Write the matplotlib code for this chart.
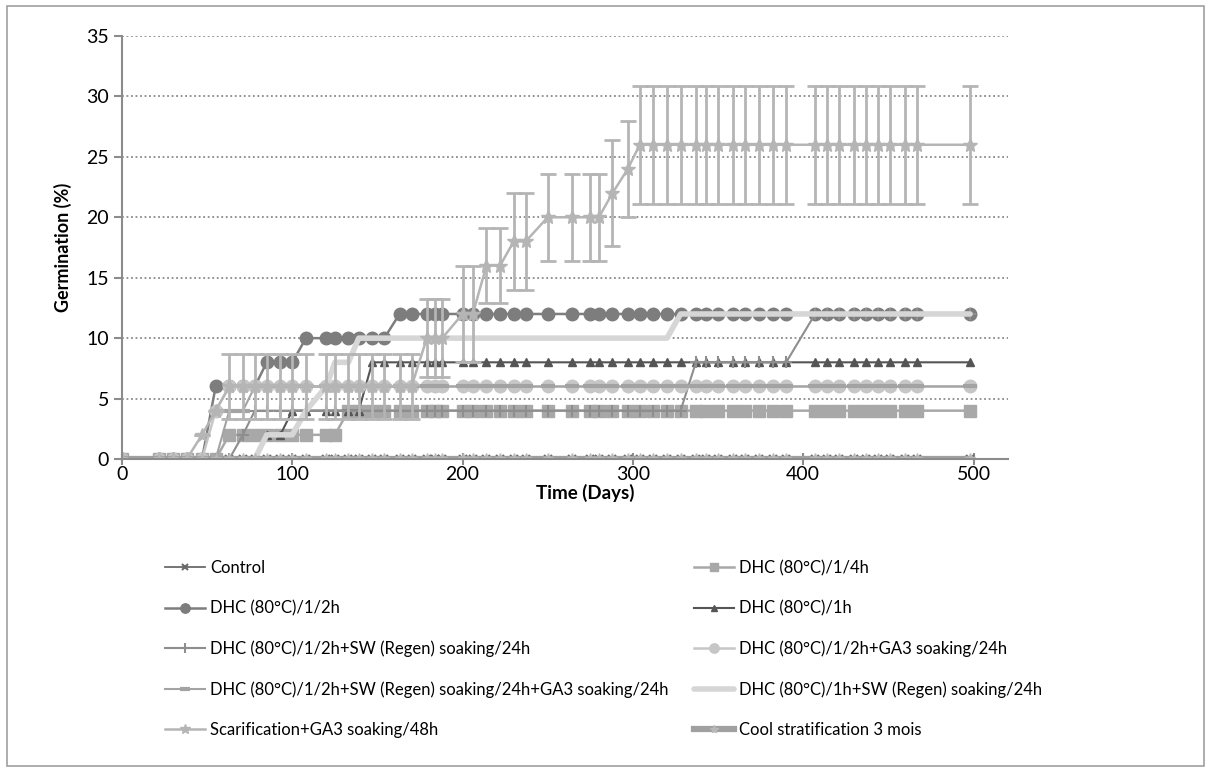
import matplotlib
matplotlib.use("Agg")
import matplotlib.pyplot as plt
from matplotlib.patches import Rectangle

plt.rcParams['font.family'] = ['Lato', 'DejaVu Sans']

# sampling days (shared by all treatments)
days = [0, 22, 30, 38, 47, 55, 63, 71, 78, 85,
        93, 100, 108, 120, 125, 133, 139, 147, 154, 163,
        170, 179, 184, 188, 200, 206, 214, 222, 230, 237,
        250, 264, 275, 280, 288, 297, 304, 312, 320, 328,
        337, 343, 350, 359, 366, 374, 382, 390, 407, 414,
        421, 430, 437, 444, 451, 460, 467, 498]

control = [0, 0, 0, 0, 0, 0, 0, 0, 0, 0,
           0, 0, 0, 0, 0, 0, 0, 0, 0, 0,
           0, 0, 0, 0, 0, 0, 0, 0, 0, 0,
           0, 0, 0, 0, 0, 0, 0, 0, 0, 0,
           0, 0, 0, 0, 0, 0, 0, 0, 0, 0,
           0, 0, 0, 0, 0, 0, 0, 0]
dhc_quarter = [0, 0, 0, 0, 0, 0, 2, 2, 2, 2,
               2, 2, 2, 2, 2, 4, 4, 4, 4, 4,
               4, 4, 4, 4, 4, 4, 4, 4, 4, 4,
               4, 4, 4, 4, 4, 4, 4, 4, 4, 4,
               4, 4, 4, 4, 4, 4, 4, 4, 4, 4,
               4, 4, 4, 4, 4, 4, 4, 4]
dhc_half = [0, 0, 0, 0, 0, 6, 6, 6, 6, 8,
            8, 8, 10, 10, 10, 10, 10, 10, 10, 12,
            12, 12, 12, 12, 12, 12, 12, 12, 12, 12,
            12, 12, 12, 12, 12, 12, 12, 12, 12, 12,
            12, 12, 12, 12, 12, 12, 12, 12, 12, 12,
            12, 12, 12, 12, 12, 12, 12, 12]
dhc_1h = [0, 0, 0, 0, 0, 0, 0, 0, 0, 2,
          2, 4, 4, 4, 4, 4, 4, 8, 8, 8,
          8, 8, 8, 8, 8, 8, 8, 8, 8, 8,
          8, 8, 8, 8, 8, 8, 8, 8, 8, 8,
          8, 8, 8, 8, 8, 8, 8, 8, 8, 8,
          8, 8, 8, 8, 8, 8, 8, 8]
half_sw = [0, 0, 0, 0, 0, 0, 0, 2, 4, 4,
           4, 4, 4, 4, 4, 4, 4, 4, 4, 4,
           4, 4, 4, 4, 4, 4, 4, 4, 4, 4,
           4, 4, 4, 4, 4, 4, 4, 4, 4, 4,
           8, 8, 8, 8, 8, 8, 8, 8, 12, 12,
           12, 12, 12, 12, 12, 12, 12, 12]
half_ga3 = [0, 0, 0, 0, 0, 4, 6, 6, 6, 6,
            6, 6, 6, 6, 6, 6, 6, 6, 6, 6,
            6, 6, 6, 6, 6, 6, 6, 6, 6, 6,
            6, 6, 6, 6, 6, 6, 6, 6, 6, 6,
            6, 6, 6, 6, 6, 6, 6, 6, 6, 6,
            6, 6, 6, 6, 6, 6, 6, 6]
half_sw_ga3 = [0, 0, 0, 0, 0, 0, 4, 4, 6, 6,
               6, 6, 6, 6, 6, 6, 6, 6, 6, 6,
               6, 6, 6, 6, 6, 6, 6, 6, 6, 6,
               6, 6, 6, 6, 6, 6, 6, 6, 6, 6,
               6, 6, 6, 6, 6, 6, 6, 6, 6, 6,
               6, 6, 6, 6, 6, 6, 6, 6]
one_sw = [0, 0, 0, 0, 0, 0, 0, 0, 0, 2,
          2, 2, 4, 6, 8, 8, 10, 10, 10, 10,
          10, 10, 10, 10, 10, 10, 10, 10, 10, 10,
          10, 10, 10, 10, 10, 10, 10, 10, 10, 12,
          12, 12, 12, 12, 12, 12, 12, 12, 12, 12,
          12, 12, 12, 12, 12, 12, 12, 12]
scarif = [0, 0, 0, 0, 2, 4, 6, 6, 6, 6,
          6, 6, 6, 6, 6, 6, 6, 6, 6, 6,
          6, 10, 10, 10, 12, 12, 16, 16, 18, 18,
          20, 20, 20, 20, 22, 24, 26, 26, 26, 26,
          26, 26, 26, 26, 26, 26, 26, 26, 26, 26,
          26, 26, 26, 26, 26, 26, 26, 26]
scarif_err = [0, 0, 0, 0, 0, 0, 2.7, 2.7, 2.7, 2.7,
              2.7, 2.7, 2.7, 2.7, 2.7, 2.7, 2.7, 2.7, 2.7, 2.7,
              2.7, 3.2, 3.2, 3.2, 4, 4, 3.1, 3.1, 4, 4,
              3.6, 3.6, 3.6, 3.6, 4.4, 4, 4.9, 4.9, 4.9, 4.9,
              4.9, 4.9, 4.9, 4.9, 4.9, 4.9, 4.9, 4.9, 4.9, 4.9,
              4.9, 4.9, 4.9, 4.9, 4.9, 4.9, 4.9, 4.9]
cool_strat = [0, 0, 0, 0, 0, 0, 0, 0, 0, 0,
              0, 0, 0, 0, 0, 0, 0, 0, 0, 0,
              0, 0, 0, 0, 0, 0, 0, 0, 0, 0,
              0, 0, 0, 0, 0, 0, 0, 0, 0, 0,
              0, 0, 0, 0, 0, 0, 0, 0, 0, 0,
              0, 0, 0, 0, 0, 0, 0, 0]

labels = ["Control", "DHC (80°C)/1/4h", "DHC (80°C)/1/2h", "DHC (80°C)/1h",
          "DHC (80°C)/1/2h+SW (Regen) soaking/24h", "DHC (80°C)/1/2h+GA3 soaking/24h",
          "DHC (80°C)/1/2h+SW (Regen) soaking/24h+GA3 soaking/24h",
          "DHC (80°C)/1h+SW (Regen) soaking/24h",
          "Scarification+GA3 soaking/48h", "Cool stratification 3 mois"]

fig = plt.figure(figsize=(12.11, 7.71), dpi=100)
fig.patches.append(Rectangle((0.006, 0.006), 0.988, 0.986, transform=fig.transFigure,
                             fill=False, edgecolor='#a0a0a0', lw=1.2))
ax = fig.add_axes([122 / 1211, 1 - 459 / 771, 520 * 1.703 / 1211, (459 - 36) / 771])

h = {}
h[0], = ax.plot(days, control, color='#6a6a6a', lw=1.3, marker='x', ms=6, mew=1.5)
h[1], = ax.plot(days, dhc_quarter, color='#a8a8a8', lw=1.8, marker='s', ms=8)
h[2], = ax.plot(days, dhc_half, color='#7d7d7d', lw=1.8, marker='o', ms=9)
h[3], = ax.plot(days, dhc_1h, color='#555555', lw=1.5, marker='^', ms=6)
h[4], = ax.plot(days, half_sw, color='#8e8e8e', lw=1.5, marker='+', ms=9, mew=1.5)
h[5], = ax.plot(days, half_ga3, color='#c6c6c6', lw=1.8, marker='o', ms=9)
h[6], = ax.plot(days, half_sw_ga3, color='#a3a3a3', lw=1.5, marker='_', ms=10, mew=3)
h[7], = ax.plot(days, one_sw, color='#d6d6d6', lw=4, solid_capstyle='round')
ax.errorbar(days, scarif, yerr=scarif_err, fmt='none', ecolor='#b5b5b5',
            elinewidth=2, capsize=6, capthick=2)
h[8], = ax.plot(days, scarif, color='#b5b5b5', lw=1.8, marker='*', ms=10)
h[9], = ax.plot(days, cool_strat, color='#a0a0a0', lw=4.5, marker='*', ms=8,
                mfc='#b8b8b8', mec='#b8b8b8')

ax.set_xlim(0, 520)
ax.set_ylim(0, 35)
ax.set_xticks(range(0, 501, 100))
ax.set_yticks(range(0, 36, 5))
ax.yaxis.grid(True, linestyle=(0, (1, 1.5)), color='#8a8a8a', lw=1.3)
ax.set_axisbelow(True)
for s in ['top', 'right']:
    ax.spines[s].set_visible(False)
for s in ['left', 'bottom']:
    ax.spines[s].set_color('#8c8c8c')
    ax.spines[s].set_linewidth(1.5)
ax.tick_params(axis='both', colors='#8c8c8c', labelcolor='black', labelsize=14,
               width=1.5, length=6)
ax.tick_params(axis='x', direction='inout', length=8, pad=1)
ax.set_ylabel('Germination (%)', fontsize=13, fontweight='bold', labelpad=10)
ax.set_xlabel('Time (Days)', fontsize=13.5, fontweight='bold')
ax.xaxis.set_label_coords((585 - 122) / (520 * 1.703), -25 / 423)

order = [0, 2, 4, 6, 8, 1, 3, 5, 7, 9]
fig.legend([h[i] for i in order], [labels[i] for i in order], ncol=2,
           loc='upper left', bbox_to_anchor=(150 / 1211, 1 - 545 / 771),
           frameon=False, fontsize=12, handlelength=2.4, handletextpad=0.3,
           labelspacing=1.45, columnspacing=1.55, markerscale=0.75)

fig.savefig('out.png', dpi=100)
